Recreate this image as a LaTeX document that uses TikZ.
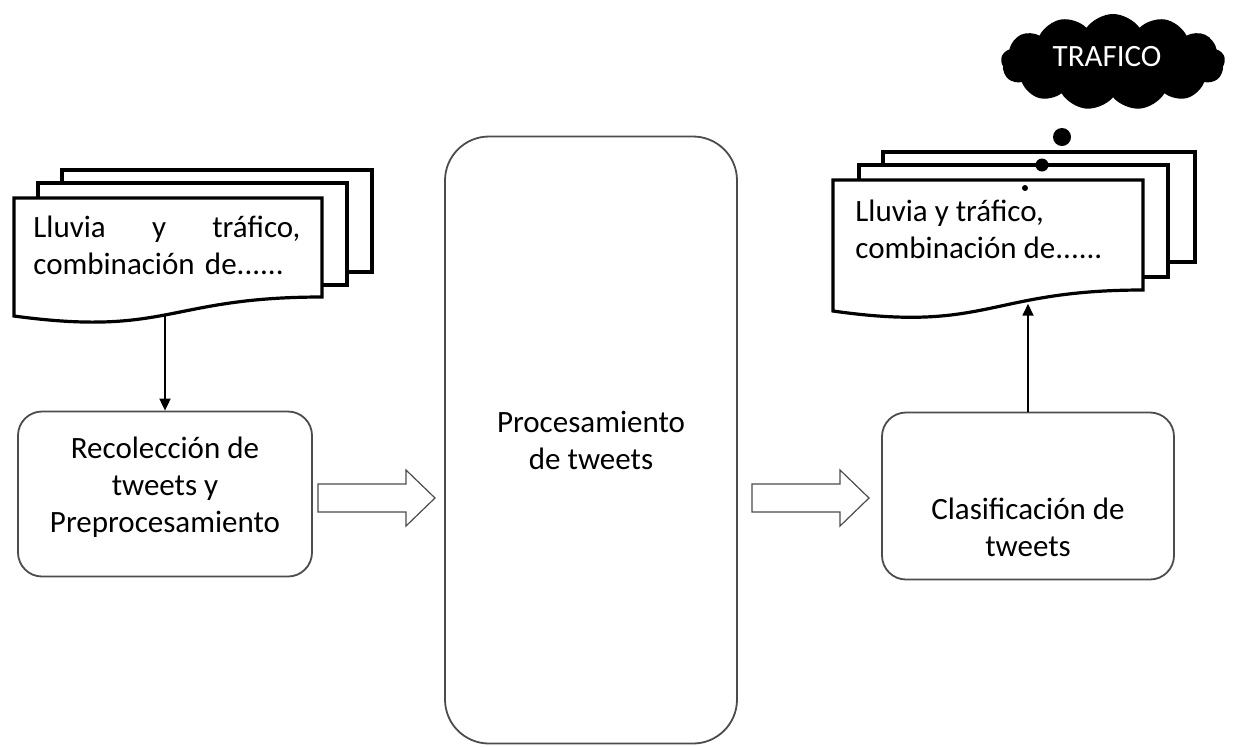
\documentclass[tikz,border=0pt]{standalone}
\usepackage{fontspec}
\setmainfont{Carlito}
\usetikzlibrary{arrows.meta,shapes.symbols}
\def\blockarrow(#1,#2){\draw[line width=0.6pt, color=black!70, fill=white] (#1,#2-14) -- ++(88,0) -- ++(0,-14) -- ++(29,28) -- ++(-29,28) -- ++(0,-14) -- ++(-88,0) -- cycle;}
\tikzset{
	sheet/.style={line width=1.6pt, fill=white},
	procbox/.style={draw=black!70, line width=0.9pt, rounded corners=#1, inner sep=0pt},
	procbox/.default=12pt,
	flow/.style={line width=0.9pt, -{Triangle[length=6pt,width=5.5pt]}},
}

\begin{document}
\begin{tikzpicture}[x=0.5pt, y=-0.5pt, font=\fontsize{15.5}{18.5}\selectfont]
		%%%%% START %%%%%
		\useasboundingbox (0,0) rectangle (1235,746);
		
		% left pile of tweets
		\draw[sheet] (62,170) rectangle (372,272);
		\draw[sheet] (38,183) rectangle (347,285);
		\draw[sheet] (14,198) -- (322,198) -- (322,297) .. controls (168,297) and (168,337) .. coordinate[pos=0.52] (docLb) (14,316) -- cycle;
		\node[anchor=north west, inner sep=0pt, text width=133.5pt, align=left] (docLtext) at (33,216) {\hbox to 133.5pt{Lluvia\hfill y\hfill tráfico,}\\combinación de......};
		
		% right pile of tweets
		\draw[sheet] (883,152) rectangle (1195,262);
		\draw[sheet] (859,165) rectangle (1168,277);
		\draw[sheet] (833,180) -- (1143,180) -- (1143,290) .. controls (988,290) and (988,333) .. coordinate[pos=0.4] (docRb) (833,311) -- cycle;
		\node[anchor=north west, inner sep=0pt, align=left] (docRtext) at (855,200) {Lluvia y tráfico,\\combinación de......};
		
		% thought
		\node[cloud, cloud puffs=13, cloud puff arc=110, aspect=2.3, fill=black, text=white, minimum width=112pt, minimum height=48pt, inner sep=0pt] (cloud) at (1113,62) {\raisebox{6pt}{TRAFICO}\hspace*{6pt}};
		\fill (1062,137) circle (9);
		\fill (1042,165) circle (6.5);
		\fill (1025,188) circle (3);
		
		% stages
		\node[procbox, minimum width=147pt, minimum height=82.5pt] (recol) at (165,494) {};
		\node[align=center] (recoltext) at (165,487) {Recolección de\\tweets y\\Preprocesamiento};
		\node[procbox=22pt, minimum width=146pt, minimum height=303.5pt, align=center] (proc) at (591,440) {Procesamiento\\de tweets};
		\node[procbox, minimum width=146pt, minimum height=83.5pt] (clasif) at (1028,496) {};
		\node[align=center] (clasiftext) at (1028,527) {Clasificación de\\tweets};
		
		\blockarrow(318,498)
		\blockarrow(752,498)
		
		\draw[flow] (recol.north |- docLb) -- (recol.north);
		\draw[flow] (clasif.north) -- (clasif.north |- docRb);
		
		%%%%% END %%%%%
	\end{tikzpicture}
\end{document}
